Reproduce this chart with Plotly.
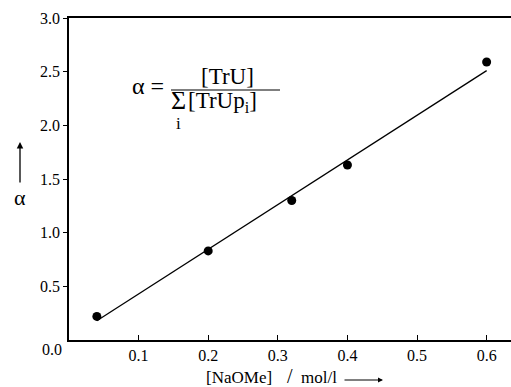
import plotly.graph_objects as go

# data
naome = [0.04, 0.20, 0.32, 0.40, 0.60]
alpha = [0.22, 0.83, 1.30, 1.63, 2.59]
fit_x = [0.04, 0.60]
fit_y = [0.18, 2.51]
x_ticks = [0.1, 0.2, 0.3, 0.4, 0.5, 0.6]
y_ticks = [0.5, 1.0, 1.5, 2.0, 2.5, 3.0]

FONT = "Liberation Serif"
L, R, T, B = 69, 0, 18, 47
W, H = 511, 387

fig = go.Figure()
fig.add_trace(go.Scatter(x=fit_x, y=fit_y, mode="lines",
                         line=dict(color="black", width=1.3), showlegend=False))
fig.add_trace(go.Scatter(x=naome, y=alpha, mode="markers",
                         marker=dict(color="black", size=9), showlegend=False))

fig.update_layout(
    width=W, height=H,
    margin=dict(l=L, r=R, t=T, b=B),
    paper_bgcolor="white", plot_bgcolor="white",
    font=dict(family=FONT, size=16, color="black"),
    xaxis=dict(range=[0, 0.635], tickvals=x_ticks, ticktext=[f"{v:.1f}" for v in x_ticks],
               ticks="inside", ticklen=5, tickwidth=1.2, tickcolor="black",
               showline=True, linecolor="black", linewidth=2, mirror=True,
               showgrid=False, zeroline=False, fixedrange=True),
    yaxis=dict(range=[0, 3.0], tickvals=y_ticks, ticktext=[f"{v:.1f}" for v in y_ticks],
               ticks="outside", ticklen=4, tickwidth=1.2, tickcolor="black",
               showline=True, linecolor="black", linewidth=1.5,
               showgrid=False, zeroline=False, fixedrange=True),
)


def px(xp, yp):
    # convert pixel coordinates to paper coordinates
    return (xp - L) / (W - R - L), (H - B - yp) / (H - T - B)


annotations = []


def text_at(xp, yp, text, size, anchor="center"):
    x0, y0 = px(xp, yp)
    annotations.append(dict(x=x0, y=y0, xref="paper", yref="paper", text=text,
                            showarrow=False, xanchor=anchor, yanchor="middle",
                            font=dict(size=size)))


def arrow(x_tail, y_tail, x_head, y_head, width):
    xh, yh = px(x_head, y_head)
    annotations.append(dict(x=xh, y=yh, ax=x_tail - x_head, ay=y_tail - y_head,
                            xref="paper", yref="paper", axref="pixel", ayref="pixel",
                            text="", showarrow=True, arrowhead=2, arrowsize=1,
                            arrowwidth=width, arrowcolor="black"))


text_at(64, 349, "0.0", 16, anchor="right")
# y title with arrow
text_at(20, 197, "α", 22)
arrow(20, 184, 20, 142, 1.3)
# x title
text_at(239, 378, "[NaOMe]", 17)
text_at(290, 376, "/", 20)
text_at(319, 378, "mol/l", 17)
arrow(343, 380, 383, 380, 1.0)
# formula
text_at(148, 86, "α =", 24)
text_at(227, 77, "[TrU]", 23)
text_at(178, 100, "Σ", 26)
text_at(186, 102, "[TrUp<sub>i</sub>]", 23, anchor="left")
text_at(178, 124, "i", 17)
fig.layout.annotations = annotations

bx0, by = px(171, 90)
bx1, _ = px(280, 90)
fig.add_shape(type="line", xref="paper", yref="paper", x0=bx0, x1=bx1, y0=by, y1=by,
              line=dict(color="black", width=1.2))

fig.write_html("out.html", config={"displayModeBar": False},
               post_script="document.body.style.margin='0px';")
